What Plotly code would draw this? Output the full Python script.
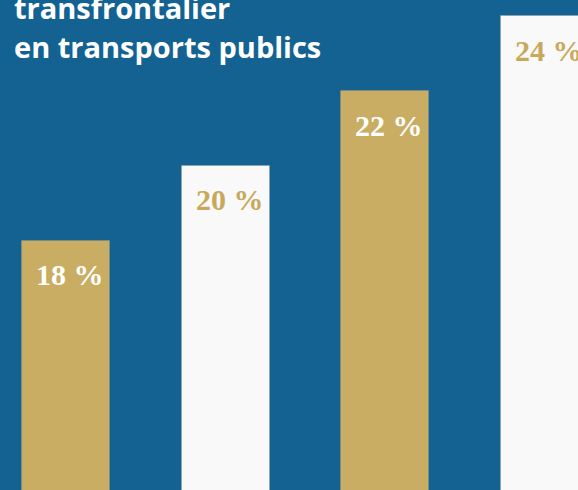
import plotly.graph_objects as go

# Data
categories = ["A", "B", "C", "D"]
values = [18, 20, 22, 24]
bar_colors = ["#c9ad63", "#f9f9f9", "#c9ad63", "#f9f9f9"]
label_colors = ["#ffffff", "#c8a95c", "#ffffff", "#c8a95c"]
title_lines = ["transfrontalier", "en transports publics"]

BG = "#146292"
W, H = 578, 490

fig = go.Figure()
fig.add_trace(go.Bar(
    x=list(range(len(categories))),
    y=values,
    width=0.551,
    marker=dict(color=bar_colors, line=dict(color="rgba(150,150,150,0.35)", width=1)),
    hoverinfo="skip",
))

for i, v in enumerate(values):
    fig.add_annotation(
        x=i, y=v, xref="x", yref="y",
        text=f"<b>{v} %</b>",
        showarrow=False, yanchor="middle", xanchor="center",
        xshift=4, yshift=-34,
        font=dict(family="Liberation Serif, Times New Roman, serif", size=30, color=label_colors[i]),
    )

title_y_px = [8, 46]
for line, ypx in zip(title_lines, title_y_px):
    fig.add_annotation(
        x=12 / W, y=1 - ypx / H, xref="paper", yref="paper",
        text=f"<b>{line}</b>", showarrow=False,
        xanchor="left", yanchor="middle",
        font=dict(family="Open Sans, sans-serif", size=29, color="white"),
    )

fig.update_layout(
    width=W, height=H,
    margin=dict(l=0, r=0, t=0, b=0),
    paper_bgcolor=BG, plot_bgcolor=BG,
    showlegend=False,
    xaxis=dict(range=[-0.4134, 3.2067], visible=False, fixedrange=True),
    yaxis=dict(range=[11.334, 24.436], visible=False, fixedrange=True),
    bargap=0,
)

fig.write_html(
    "out.html",
    config={"displayModeBar": False},
    post_script="document.body.style.margin='0';document.body.style.overflow='hidden';",
)
